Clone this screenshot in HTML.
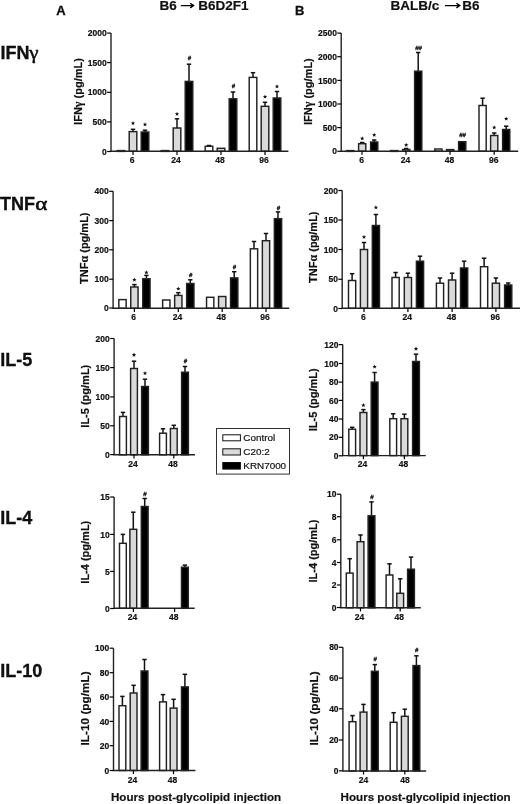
<!DOCTYPE html>
<html><head><meta charset="utf-8"><style>
html,body{margin:0;padding:0;background:#fff;}
body{width:520px;height:804px;overflow:hidden;}
svg{display:block;will-change:transform;}
text{font-family:"Liberation Sans",sans-serif;fill:#111;stroke:#111;stroke-width:0.2;}
.ax{fill:none;stroke:#222;stroke-width:1.4;}
.tk{stroke:#000;stroke-width:1.2;}
.b{stroke:#222;stroke-width:1.45;}
.e{stroke:#111;stroke-width:1.5;}
.yl{font-size:8.5px;font-weight:bold;text-anchor:end;}
.xl{font-size:8.5px;font-weight:bold;text-anchor:middle;}
.yt{font-size:11px;font-weight:bold;text-anchor:middle;}
.st{font-size:8px;font-weight:bold;text-anchor:middle;}
.hs{font-size:6.2px;font-weight:bold;text-anchor:middle;stroke:#111;stroke-width:0.3;}
.rl{font-size:18px;font-weight:bold;stroke:#000;stroke-width:0.3;}
.gk{font-family:"Liberation Serif",serif;font-weight:normal;}
.gk2{font-family:"Liberation Serif",serif;font-weight:bold;font-size:12px;}
.hd{font-size:13px;font-weight:bold;stroke:#000;stroke-width:0.3;}
.tt{font-size:13.5px;font-weight:bold;}
.xt{font-size:11.6px;font-weight:bold;}
.lg{font-size:9.9px;}
.ar{fill:none;stroke:#000;stroke-width:1.35;}
</style></head><body>
<svg width="520" height="804" viewBox="0 0 520 804">
<text x="56.3" y="14.6" class="hd">A</text>
<text x="295.1" y="14.6" class="hd">B</text>
<text x="159.5" y="10" class="tt">B6</text><path d="M180.8 5.6H192.8M190.2 3.3L193.6 5.6L190.2 7.9" class="ar"/><text x="198.3" y="10" class="tt">B6D2F1</text>
<text x="390.5" y="10" class="tt">BALB/c</text><path d="M445 5.6H459M456.4 3.3L459.8 5.6L456.4 7.9" class="ar"/><text x="462.2" y="10" class="tt">B6</text>
<text x="0.5" y="58.9" class="rl">IFN</text><text transform="translate(29.3 58.9) scale(1.16 1)" class="rl gk" style="stroke-width:0.45">γ</text>
<text x="0" y="209.6" class="rl">TNF</text><text transform="translate(35.2 209.6) scale(1.25 1)" class="rl gk" style="font-size:18.5px;stroke-width:0.5">α</text>
<text x="0.3" y="366.1" class="rl">IL-5</text>
<text x="0.3" y="523.6" class="rl">IL-4</text>
<text x="0.3" y="677.3" class="rl">IL-10</text>
<rect x="117.2" y="150.6" width="7.6" height="0.8" fill="#fff" class="b"/>
<line x1="133" y1="131.6" x2="133" y2="129.3" class="e"/>
<line x1="130.8" y1="129.3" x2="135.2" y2="129.3" class="e"/>
<rect x="129.2" y="131.6" width="7.6" height="19.7" fill="#dadada" class="b"/>
<polygon transform="translate(133 123.2)" points="0.00,-2.30 0.59,-0.81 2.19,-0.71 0.95,0.31 1.35,1.86 0.00,1.00 -1.35,1.86 -0.95,0.31 -2.19,-0.71 -0.59,-0.81" fill="#111"/>
<line x1="145" y1="132" x2="145" y2="130.2" class="e"/>
<line x1="142.8" y1="130.2" x2="147.2" y2="130.2" class="e"/>
<rect x="141.2" y="132" width="7.6" height="19.3" fill="#000" class="b"/>
<polygon transform="translate(145 124.5)" points="0.00,-2.30 0.59,-0.81 2.19,-0.71 0.95,0.31 1.35,1.86 0.00,1.00 -1.35,1.86 -0.95,0.31 -2.19,-0.71 -0.59,-0.81" fill="#111"/>
<rect x="161.2" y="150.6" width="7.6" height="0.8" fill="#fff" class="b"/>
<line x1="177" y1="128" x2="177" y2="118.8" class="e"/>
<line x1="174.8" y1="118.8" x2="179.2" y2="118.8" class="e"/>
<rect x="173.2" y="128" width="7.6" height="23.3" fill="#dadada" class="b"/>
<polygon transform="translate(177 114)" points="0.00,-2.30 0.59,-0.81 2.19,-0.71 0.95,0.31 1.35,1.86 0.00,1.00 -1.35,1.86 -0.95,0.31 -2.19,-0.71 -0.59,-0.81" fill="#111"/>
<line x1="189" y1="81.4" x2="189" y2="64.2" class="e"/>
<line x1="186.8" y1="64.2" x2="191.2" y2="64.2" class="e"/>
<rect x="185.2" y="81.4" width="7.6" height="69.9" fill="#000" class="b"/>
<text x="189.4" y="59.5" class="hs">#</text>
<line x1="209" y1="146.3" x2="209" y2="145.5" class="e"/>
<line x1="206.8" y1="145.5" x2="211.2" y2="145.5" class="e"/>
<rect x="205.2" y="146.3" width="7.6" height="5" fill="#fff" class="b"/>
<rect x="217.2" y="148.3" width="7.6" height="3" fill="#dadada" class="b"/>
<line x1="233" y1="98.8" x2="233" y2="92" class="e"/>
<line x1="230.8" y1="92" x2="235.2" y2="92" class="e"/>
<rect x="229.2" y="98.8" width="7.6" height="52.5" fill="#000" class="b"/>
<text x="233.4" y="88.3" class="hs">#</text>
<line x1="253" y1="77.4" x2="253" y2="72.7" class="e"/>
<line x1="250.8" y1="72.7" x2="255.2" y2="72.7" class="e"/>
<rect x="249.2" y="77.4" width="7.6" height="73.9" fill="#fff" class="b"/>
<line x1="265" y1="106.3" x2="265" y2="102.3" class="e"/>
<line x1="262.8" y1="102.3" x2="267.2" y2="102.3" class="e"/>
<rect x="261.2" y="106.3" width="7.6" height="45" fill="#dadada" class="b"/>
<polygon transform="translate(265 96.7)" points="0.00,-2.30 0.59,-0.81 2.19,-0.71 0.95,0.31 1.35,1.86 0.00,1.00 -1.35,1.86 -0.95,0.31 -2.19,-0.71 -0.59,-0.81" fill="#111"/>
<line x1="277" y1="98" x2="277" y2="91.5" class="e"/>
<line x1="274.8" y1="91.5" x2="279.2" y2="91.5" class="e"/>
<rect x="273.2" y="98" width="7.6" height="53.3" fill="#000" class="b"/>
<polygon transform="translate(277 86.5)" points="0.00,-2.30 0.59,-0.81 2.19,-0.71 0.95,0.31 1.35,1.86 0.00,1.00 -1.35,1.86 -0.95,0.31 -2.19,-0.71 -0.59,-0.81" fill="#111"/>
<path d="M111 33.1V151.3H288.4" class="ax"/>
<line x1="107.1" y1="151.5" x2="111" y2="151.5" class="tk"/>
<text x="106.7" y="154.6" class="yl">0</text>
<line x1="107.1" y1="121.9" x2="111" y2="121.9" class="tk"/>
<text x="106.7" y="125" class="yl">500</text>
<line x1="107.1" y1="92.3" x2="111" y2="92.3" class="tk"/>
<text x="106.7" y="95.4" class="yl">1000</text>
<line x1="107.1" y1="62.6" x2="111" y2="62.6" class="tk"/>
<text x="106.7" y="65.7" class="yl">1500</text>
<line x1="107.1" y1="33.1" x2="111" y2="33.1" class="tk"/>
<text x="106.7" y="36.2" class="yl">2000</text>
<line x1="133" y1="151.3" x2="133" y2="154.9" class="tk"/>
<text x="132.1" y="163.2" class="xl">6</text>
<line x1="177" y1="151.3" x2="177" y2="154.9" class="tk"/>
<text x="176.1" y="163.2" class="xl">24</text>
<line x1="221" y1="151.3" x2="221" y2="154.9" class="tk"/>
<text x="220.1" y="163.2" class="xl">48</text>
<line x1="265" y1="151.3" x2="265" y2="154.9" class="tk"/>
<text x="264.1" y="163.2" class="xl">96</text>
<text transform="translate(81.8 91.5) rotate(-90)" class="yt">IFN<tspan class="gk2">γ</tspan> (pg/mL)</text>
<rect x="118.85" y="299.6" width="7.3" height="8.7" fill="#fff" class="b"/>
<line x1="134.4" y1="287" x2="134.4" y2="284.6" class="e"/>
<line x1="132.2" y1="284.6" x2="136.6" y2="284.6" class="e"/>
<rect x="130.75" y="287" width="7.3" height="21.3" fill="#dadada" class="b"/>
<polygon transform="translate(134.4 279.8)" points="0.00,-2.30 0.59,-0.81 2.19,-0.71 0.95,0.31 1.35,1.86 0.00,1.00 -1.35,1.86 -0.95,0.31 -2.19,-0.71 -0.59,-0.81" fill="#111"/>
<line x1="146.4" y1="278.8" x2="146.4" y2="275.4" class="e"/>
<line x1="144.2" y1="275.4" x2="148.6" y2="275.4" class="e"/>
<rect x="142.75" y="278.8" width="7.3" height="29.5" fill="#000" class="b"/>
<polygon transform="translate(146.4 272.5)" points="0.00,-2.30 0.59,-0.81 2.19,-0.71 0.95,0.31 1.35,1.86 0.00,1.00 -1.35,1.86 -0.95,0.31 -2.19,-0.71 -0.59,-0.81" fill="#111"/>
<rect x="162.65" y="300" width="7.3" height="8.3" fill="#fff" class="b"/>
<line x1="178.3" y1="295.4" x2="178.3" y2="292.7" class="e"/>
<line x1="176.1" y1="292.7" x2="180.5" y2="292.7" class="e"/>
<rect x="174.65" y="295.4" width="7.3" height="12.9" fill="#dadada" class="b"/>
<polygon transform="translate(178.3 288.7)" points="0.00,-2.30 0.59,-0.81 2.19,-0.71 0.95,0.31 1.35,1.86 0.00,1.00 -1.35,1.86 -0.95,0.31 -2.19,-0.71 -0.59,-0.81" fill="#111"/>
<line x1="190.3" y1="283.5" x2="190.3" y2="279.8" class="e"/>
<line x1="188.1" y1="279.8" x2="192.5" y2="279.8" class="e"/>
<rect x="186.65" y="283.5" width="7.3" height="24.8" fill="#000" class="b"/>
<text x="190.7" y="277.2" class="hs">#</text>
<rect x="206.55" y="297.3" width="7.3" height="11" fill="#fff" class="b"/>
<rect x="218.55" y="296.5" width="7.3" height="11.8" fill="#dadada" class="b"/>
<line x1="234.2" y1="277.9" x2="234.2" y2="271.7" class="e"/>
<line x1="232" y1="271.7" x2="236.4" y2="271.7" class="e"/>
<rect x="230.55" y="277.9" width="7.3" height="30.4" fill="#000" class="b"/>
<text x="234.6" y="269.1" class="hs">#</text>
<line x1="254" y1="248.8" x2="254" y2="241.5" class="e"/>
<line x1="251.8" y1="241.5" x2="256.2" y2="241.5" class="e"/>
<rect x="250.35" y="248.8" width="7.3" height="59.5" fill="#fff" class="b"/>
<line x1="266" y1="240.7" x2="266" y2="233.5" class="e"/>
<line x1="263.8" y1="233.5" x2="268.2" y2="233.5" class="e"/>
<rect x="262.35" y="240.7" width="7.3" height="67.6" fill="#dadada" class="b"/>
<line x1="278" y1="218.7" x2="278" y2="211.9" class="e"/>
<line x1="275.8" y1="211.9" x2="280.2" y2="211.9" class="e"/>
<rect x="274.35" y="218.7" width="7.3" height="89.6" fill="#000" class="b"/>
<text x="278.4" y="209.5" class="hs">#</text>
<path d="M113.1 191.3V308.3H289.2" class="ax"/>
<line x1="109.2" y1="308" x2="113.1" y2="308" class="tk"/>
<text x="108.8" y="311.1" class="yl">0</text>
<line x1="109.2" y1="279.2" x2="113.1" y2="279.2" class="tk"/>
<text x="108.8" y="282.3" class="yl">100</text>
<line x1="109.2" y1="249.8" x2="113.1" y2="249.8" class="tk"/>
<text x="108.8" y="252.9" class="yl">200</text>
<line x1="109.2" y1="220.6" x2="113.1" y2="220.6" class="tk"/>
<text x="108.8" y="223.7" class="yl">300</text>
<line x1="109.2" y1="191.3" x2="113.1" y2="191.3" class="tk"/>
<text x="108.8" y="194.4" class="yl">400</text>
<line x1="134.4" y1="308.3" x2="134.4" y2="311.9" class="tk"/>
<text x="133.5" y="320.2" class="xl">6</text>
<line x1="178.3" y1="308.3" x2="178.3" y2="311.9" class="tk"/>
<text x="177.4" y="320.2" class="xl">24</text>
<line x1="222.2" y1="308.3" x2="222.2" y2="311.9" class="tk"/>
<text x="221.3" y="320.2" class="xl">48</text>
<line x1="266" y1="308.3" x2="266" y2="311.9" class="tk"/>
<text x="265.1" y="320.2" class="xl">96</text>
<text transform="translate(88.3 248.2) rotate(-90)" class="yt">TNF<tspan class="gk2">α</tspan> (pg/mL)</text>
<line x1="123" y1="416.5" x2="123" y2="412.4" class="e"/>
<line x1="120.8" y1="412.4" x2="125.2" y2="412.4" class="e"/>
<rect x="119.6" y="416.5" width="6.8" height="38.3" fill="#fff" class="b"/>
<line x1="134" y1="368.5" x2="134" y2="361.2" class="e"/>
<line x1="131.8" y1="361.2" x2="136.2" y2="361.2" class="e"/>
<rect x="130.6" y="368.5" width="6.8" height="86.3" fill="#dadada" class="b"/>
<polygon transform="translate(134 354.9)" points="0.00,-2.30 0.59,-0.81 2.19,-0.71 0.95,0.31 1.35,1.86 0.00,1.00 -1.35,1.86 -0.95,0.31 -2.19,-0.71 -0.59,-0.81" fill="#111"/>
<line x1="145" y1="386.5" x2="145" y2="379.2" class="e"/>
<line x1="142.8" y1="379.2" x2="147.2" y2="379.2" class="e"/>
<rect x="141.6" y="386.5" width="6.8" height="68.3" fill="#000" class="b"/>
<polygon transform="translate(145 373.2)" points="0.00,-2.30 0.59,-0.81 2.19,-0.71 0.95,0.31 1.35,1.86 0.00,1.00 -1.35,1.86 -0.95,0.31 -2.19,-0.71 -0.59,-0.81" fill="#111"/>
<line x1="163" y1="433.2" x2="163" y2="428.8" class="e"/>
<line x1="160.8" y1="428.8" x2="165.2" y2="428.8" class="e"/>
<rect x="159.6" y="433.2" width="6.8" height="21.6" fill="#fff" class="b"/>
<line x1="173.8" y1="428.5" x2="173.8" y2="425.3" class="e"/>
<line x1="171.6" y1="425.3" x2="176" y2="425.3" class="e"/>
<rect x="170.4" y="428.5" width="6.8" height="26.3" fill="#dadada" class="b"/>
<line x1="185" y1="372.2" x2="185" y2="366.5" class="e"/>
<line x1="182.8" y1="366.5" x2="187.2" y2="366.5" class="e"/>
<rect x="181.6" y="372.2" width="6.8" height="82.6" fill="#000" class="b"/>
<text x="185.4" y="362.5" class="hs">#</text>
<path d="M114.1 338.5V454.8H195" class="ax"/>
<line x1="110.2" y1="454.6" x2="114.1" y2="454.6" class="tk"/>
<text x="109.8" y="457.7" class="yl">0</text>
<line x1="110.2" y1="425.8" x2="114.1" y2="425.8" class="tk"/>
<text x="109.8" y="428.9" class="yl">50</text>
<line x1="110.2" y1="396.9" x2="114.1" y2="396.9" class="tk"/>
<text x="109.8" y="400" class="yl">100</text>
<line x1="110.2" y1="367.6" x2="114.1" y2="367.6" class="tk"/>
<text x="109.8" y="370.7" class="yl">150</text>
<line x1="110.2" y1="338.5" x2="114.1" y2="338.5" class="tk"/>
<text x="109.8" y="341.6" class="yl">200</text>
<line x1="134" y1="454.8" x2="134" y2="458.4" class="tk"/>
<text x="133.1" y="466.7" class="xl">24</text>
<line x1="173.8" y1="454.8" x2="173.8" y2="458.4" class="tk"/>
<text x="172.9" y="466.7" class="xl">48</text>
<text transform="translate(89.3 396.2) rotate(-90)" class="yt">IL-5 (pg/mL)</text>
<line x1="122.9" y1="543.3" x2="122.9" y2="534.4" class="e"/>
<line x1="120.7" y1="534.4" x2="125.1" y2="534.4" class="e"/>
<rect x="119.5" y="543.3" width="6.8" height="65" fill="#fff" class="b"/>
<line x1="133.3" y1="529.3" x2="133.3" y2="512.2" class="e"/>
<line x1="131.1" y1="512.2" x2="135.5" y2="512.2" class="e"/>
<rect x="129.9" y="529.3" width="6.8" height="79" fill="#dadada" class="b"/>
<line x1="144.7" y1="506.5" x2="144.7" y2="498.5" class="e"/>
<line x1="142.5" y1="498.5" x2="146.9" y2="498.5" class="e"/>
<rect x="141.3" y="506.5" width="6.8" height="101.8" fill="#000" class="b"/>
<text x="145.1" y="495.7" class="hs">#</text>
<line x1="184.9" y1="567.2" x2="184.9" y2="565.1" class="e"/>
<line x1="182.7" y1="565.1" x2="187.1" y2="565.1" class="e"/>
<rect x="181.5" y="567.2" width="6.8" height="41.1" fill="#000" class="b"/>
<path d="M114.1 497V608.3H194.7" class="ax"/>
<line x1="110.2" y1="608.5" x2="114.1" y2="608.5" class="tk"/>
<text x="109.8" y="611.6" class="yl">0</text>
<line x1="110.2" y1="571.4" x2="114.1" y2="571.4" class="tk"/>
<text x="109.8" y="574.5" class="yl">5</text>
<line x1="110.2" y1="534.4" x2="114.1" y2="534.4" class="tk"/>
<text x="109.8" y="537.5" class="yl">10</text>
<line x1="110.2" y1="497" x2="114.1" y2="497" class="tk"/>
<text x="109.8" y="500.1" class="yl">15</text>
<line x1="133.4" y1="608.3" x2="133.4" y2="611.9" class="tk"/>
<text x="132.5" y="620.2" class="xl">24</text>
<line x1="174.6" y1="608.3" x2="174.6" y2="611.9" class="tk"/>
<text x="173.7" y="620.2" class="xl">48</text>
<text transform="translate(89.3 552.2) rotate(-90)" class="yt">IL-4 (pg/mL)</text>
<line x1="122.4" y1="705.7" x2="122.4" y2="696.4" class="e"/>
<line x1="120.2" y1="696.4" x2="124.6" y2="696.4" class="e"/>
<rect x="119" y="705.7" width="6.8" height="64.8" fill="#fff" class="b"/>
<line x1="133.6" y1="693" x2="133.6" y2="685.3" class="e"/>
<line x1="131.4" y1="685.3" x2="135.8" y2="685.3" class="e"/>
<rect x="130.2" y="693" width="6.8" height="77.5" fill="#dadada" class="b"/>
<line x1="144.5" y1="671" x2="144.5" y2="659.5" class="e"/>
<line x1="142.3" y1="659.5" x2="146.7" y2="659.5" class="e"/>
<rect x="141.1" y="671" width="6.8" height="99.5" fill="#000" class="b"/>
<line x1="163" y1="701.9" x2="163" y2="694.6" class="e"/>
<line x1="160.8" y1="694.6" x2="165.2" y2="694.6" class="e"/>
<rect x="159.6" y="701.9" width="6.8" height="68.6" fill="#fff" class="b"/>
<line x1="173.6" y1="708.1" x2="173.6" y2="699.3" class="e"/>
<line x1="171.4" y1="699.3" x2="175.8" y2="699.3" class="e"/>
<rect x="170.2" y="708.1" width="6.8" height="62.4" fill="#dadada" class="b"/>
<line x1="184.9" y1="686.9" x2="184.9" y2="674.3" class="e"/>
<line x1="182.7" y1="674.3" x2="187.1" y2="674.3" class="e"/>
<rect x="181.5" y="686.9" width="6.8" height="83.6" fill="#000" class="b"/>
<path d="M113.5 648.2V770.5H195.4" class="ax"/>
<line x1="109.6" y1="770.5" x2="113.5" y2="770.5" class="tk"/>
<text x="109.2" y="773.6" class="yl">0</text>
<line x1="109.6" y1="745.7" x2="113.5" y2="745.7" class="tk"/>
<text x="109.2" y="748.8" class="yl">20</text>
<line x1="109.6" y1="721.4" x2="113.5" y2="721.4" class="tk"/>
<text x="109.2" y="724.5" class="yl">40</text>
<line x1="109.6" y1="697" x2="113.5" y2="697" class="tk"/>
<text x="109.2" y="700.1" class="yl">60</text>
<line x1="109.6" y1="672.7" x2="113.5" y2="672.7" class="tk"/>
<text x="109.2" y="675.8" class="yl">80</text>
<line x1="109.6" y1="648.2" x2="113.5" y2="648.2" class="tk"/>
<text x="109.2" y="651.3" class="yl">100</text>
<line x1="133.4" y1="770.5" x2="133.4" y2="774.1" class="tk"/>
<text x="132.5" y="783" class="xl">24</text>
<line x1="173.5" y1="770.5" x2="173.5" y2="774.1" class="tk"/>
<text x="172.6" y="783" class="xl">48</text>
<text transform="translate(89.4 708.4) rotate(-90)" class="yt" style="font-size:11.8px">IL-10 (pg/mL)</text>
<rect x="346.6" y="150.6" width="7.2" height="0.8" fill="#fff" class="b"/>
<line x1="362.2" y1="143.7" x2="362.2" y2="142.5" class="e"/>
<line x1="360" y1="142.5" x2="364.4" y2="142.5" class="e"/>
<rect x="358.6" y="143.7" width="7.2" height="7.5" fill="#dadada" class="b"/>
<polygon transform="translate(362.2 138.5)" points="0.00,-2.30 0.59,-0.81 2.19,-0.71 0.95,0.31 1.35,1.86 0.00,1.00 -1.35,1.86 -0.95,0.31 -2.19,-0.71 -0.59,-0.81" fill="#111"/>
<line x1="374.2" y1="142" x2="374.2" y2="140" class="e"/>
<line x1="372" y1="140" x2="376.4" y2="140" class="e"/>
<rect x="370.6" y="142" width="7.2" height="9.2" fill="#000" class="b"/>
<polygon transform="translate(374.2 135)" points="0.00,-2.30 0.59,-0.81 2.19,-0.71 0.95,0.31 1.35,1.86 0.00,1.00 -1.35,1.86 -0.95,0.31 -2.19,-0.71 -0.59,-0.81" fill="#111"/>
<rect x="390.6" y="150.6" width="7.2" height="0.8" fill="#fff" class="b"/>
<line x1="406.2" y1="149.5" x2="406.2" y2="148.5" class="e"/>
<line x1="404" y1="148.5" x2="408.4" y2="148.5" class="e"/>
<rect x="402.6" y="149.5" width="7.2" height="1.7" fill="#dadada" class="b"/>
<polygon transform="translate(406.2 145)" points="0.00,-2.30 0.59,-0.81 2.19,-0.71 0.95,0.31 1.35,1.86 0.00,1.00 -1.35,1.86 -0.95,0.31 -2.19,-0.71 -0.59,-0.81" fill="#111"/>
<line x1="418.2" y1="71.2" x2="418.2" y2="52.5" class="e"/>
<line x1="416" y1="52.5" x2="420.4" y2="52.5" class="e"/>
<rect x="414.6" y="71.2" width="7.2" height="80" fill="#000" class="b"/>
<text x="418.6" y="49.5" class="hs">##</text>
<rect x="434.8" y="149" width="7.2" height="2.2" fill="#fff" class="b"/>
<rect x="446.6" y="149.6" width="7.2" height="1.6" fill="#dadada" class="b"/>
<rect x="458.6" y="141.7" width="7.2" height="9.5" fill="#000" class="b"/>
<text x="462.6" y="136.7" class="hs">##</text>
<line x1="482.6" y1="105.5" x2="482.6" y2="98.2" class="e"/>
<line x1="480.4" y1="98.2" x2="484.8" y2="98.2" class="e"/>
<rect x="479" y="105.5" width="7.2" height="45.7" fill="#fff" class="b"/>
<line x1="494.2" y1="135.5" x2="494.2" y2="133" class="e"/>
<line x1="492" y1="133" x2="496.4" y2="133" class="e"/>
<rect x="490.6" y="135.5" width="7.2" height="15.7" fill="#dadada" class="b"/>
<polygon transform="translate(494.2 127.5)" points="0.00,-2.30 0.59,-0.81 2.19,-0.71 0.95,0.31 1.35,1.86 0.00,1.00 -1.35,1.86 -0.95,0.31 -2.19,-0.71 -0.59,-0.81" fill="#111"/>
<line x1="506.2" y1="129.5" x2="506.2" y2="126.2" class="e"/>
<line x1="504" y1="126.2" x2="508.4" y2="126.2" class="e"/>
<rect x="502.6" y="129.5" width="7.2" height="21.7" fill="#000" class="b"/>
<polygon transform="translate(506.2 118.7)" points="0.00,-2.30 0.59,-0.81 2.19,-0.71 0.95,0.31 1.35,1.86 0.00,1.00 -1.35,1.86 -0.95,0.31 -2.19,-0.71 -0.59,-0.81" fill="#111"/>
<path d="M341.2 33.1V151.2H518.2" class="ax"/>
<line x1="337.3" y1="151.25" x2="341.2" y2="151.25" class="tk"/>
<text x="336.9" y="154.35" class="yl">0</text>
<line x1="337.3" y1="127.6" x2="341.2" y2="127.6" class="tk"/>
<text x="336.9" y="130.7" class="yl">500</text>
<line x1="337.3" y1="104" x2="341.2" y2="104" class="tk"/>
<text x="336.9" y="107.1" class="yl">1000</text>
<line x1="337.3" y1="80.4" x2="341.2" y2="80.4" class="tk"/>
<text x="336.9" y="83.5" class="yl">1500</text>
<line x1="337.3" y1="56.7" x2="341.2" y2="56.7" class="tk"/>
<text x="336.9" y="59.8" class="yl">2000</text>
<line x1="337.3" y1="33.1" x2="341.2" y2="33.1" class="tk"/>
<text x="336.9" y="36.2" class="yl">2500</text>
<line x1="362" y1="151.2" x2="362" y2="154.8" class="tk"/>
<text x="361.5" y="163.1" class="xl">6</text>
<line x1="406" y1="151.2" x2="406" y2="154.8" class="tk"/>
<text x="405.5" y="163.1" class="xl">24</text>
<line x1="450" y1="151.2" x2="450" y2="154.8" class="tk"/>
<text x="449.5" y="163.1" class="xl">48</text>
<line x1="494.2" y1="151.2" x2="494.2" y2="154.8" class="tk"/>
<text x="493.7" y="163.1" class="xl">96</text>
<text transform="translate(311.9 91.6) rotate(-90)" class="yt">IFN<tspan class="gk2">γ</tspan> (pg/mL)</text>
<line x1="352.1" y1="280.5" x2="352.1" y2="273.7" class="e"/>
<line x1="349.9" y1="273.7" x2="354.3" y2="273.7" class="e"/>
<rect x="348.5" y="280.5" width="7.2" height="27.8" fill="#fff" class="b"/>
<line x1="364" y1="249.5" x2="364" y2="242.5" class="e"/>
<line x1="361.8" y1="242.5" x2="366.2" y2="242.5" class="e"/>
<rect x="360.4" y="249.5" width="7.2" height="58.8" fill="#dadada" class="b"/>
<polygon transform="translate(364 237)" points="0.00,-2.30 0.59,-0.81 2.19,-0.71 0.95,0.31 1.35,1.86 0.00,1.00 -1.35,1.86 -0.95,0.31 -2.19,-0.71 -0.59,-0.81" fill="#111"/>
<line x1="375.9" y1="225.5" x2="375.9" y2="214.5" class="e"/>
<line x1="373.7" y1="214.5" x2="378.1" y2="214.5" class="e"/>
<rect x="372.3" y="225.5" width="7.2" height="82.8" fill="#000" class="b"/>
<polygon transform="translate(375.9 207.5)" points="0.00,-2.30 0.59,-0.81 2.19,-0.71 0.95,0.31 1.35,1.86 0.00,1.00 -1.35,1.86 -0.95,0.31 -2.19,-0.71 -0.59,-0.81" fill="#111"/>
<line x1="395.6" y1="277.5" x2="395.6" y2="272.5" class="e"/>
<line x1="393.4" y1="272.5" x2="397.8" y2="272.5" class="e"/>
<rect x="392" y="277.5" width="7.2" height="30.8" fill="#fff" class="b"/>
<line x1="407.9" y1="277.5" x2="407.9" y2="273.2" class="e"/>
<line x1="405.7" y1="273.2" x2="410.1" y2="273.2" class="e"/>
<rect x="404.3" y="277.5" width="7.2" height="30.8" fill="#dadada" class="b"/>
<line x1="420" y1="261.2" x2="420" y2="256.2" class="e"/>
<line x1="417.8" y1="256.2" x2="422.2" y2="256.2" class="e"/>
<rect x="416.4" y="261.2" width="7.2" height="47.1" fill="#000" class="b"/>
<line x1="440" y1="283.2" x2="440" y2="278" class="e"/>
<line x1="437.8" y1="278" x2="442.2" y2="278" class="e"/>
<rect x="436.4" y="283.2" width="7.2" height="25.1" fill="#fff" class="b"/>
<line x1="452.1" y1="280" x2="452.1" y2="273.2" class="e"/>
<line x1="449.9" y1="273.2" x2="454.3" y2="273.2" class="e"/>
<rect x="448.5" y="280" width="7.2" height="28.3" fill="#dadada" class="b"/>
<line x1="464.1" y1="268" x2="464.1" y2="261.2" class="e"/>
<line x1="461.9" y1="261.2" x2="466.3" y2="261.2" class="e"/>
<rect x="460.5" y="268" width="7.2" height="40.3" fill="#000" class="b"/>
<line x1="484.1" y1="266.7" x2="484.1" y2="258.2" class="e"/>
<line x1="481.9" y1="258.2" x2="486.3" y2="258.2" class="e"/>
<rect x="480.5" y="266.7" width="7.2" height="41.6" fill="#fff" class="b"/>
<line x1="495.9" y1="283.2" x2="495.9" y2="278" class="e"/>
<line x1="493.7" y1="278" x2="498.1" y2="278" class="e"/>
<rect x="492.3" y="283.2" width="7.2" height="25.1" fill="#dadada" class="b"/>
<line x1="508.2" y1="285" x2="508.2" y2="283" class="e"/>
<line x1="506" y1="283" x2="510.4" y2="283" class="e"/>
<rect x="504.6" y="285" width="7.2" height="23.3" fill="#000" class="b"/>
<path d="M342.2 190.5V308.3H520.5" class="ax"/>
<line x1="338.3" y1="308.5" x2="342.2" y2="308.5" class="tk"/>
<text x="337.9" y="311.6" class="yl">0</text>
<line x1="338.3" y1="279.25" x2="342.2" y2="279.25" class="tk"/>
<text x="337.9" y="282.35" class="yl">50</text>
<line x1="338.3" y1="249.5" x2="342.2" y2="249.5" class="tk"/>
<text x="337.9" y="252.6" class="yl">100</text>
<line x1="338.3" y1="220" x2="342.2" y2="220" class="tk"/>
<text x="337.9" y="223.1" class="yl">150</text>
<line x1="338.3" y1="190.5" x2="342.2" y2="190.5" class="tk"/>
<text x="337.9" y="193.6" class="yl">200</text>
<line x1="364" y1="308.3" x2="364" y2="311.9" class="tk"/>
<text x="363.3" y="320.2" class="xl">6</text>
<line x1="407.9" y1="308.3" x2="407.9" y2="311.9" class="tk"/>
<text x="407.2" y="320.2" class="xl">24</text>
<line x1="452.1" y1="308.3" x2="452.1" y2="311.9" class="tk"/>
<text x="451.4" y="320.2" class="xl">48</text>
<line x1="495.9" y1="308.3" x2="495.9" y2="311.9" class="tk"/>
<text x="495.2" y="320.2" class="xl">96</text>
<text transform="translate(316.7 247.2) rotate(-90)" class="yt">TNF<tspan class="gk2">α</tspan> (pg/mL)</text>
<line x1="352.2" y1="429.2" x2="352.2" y2="427.3" class="e"/>
<line x1="350" y1="427.3" x2="354.4" y2="427.3" class="e"/>
<rect x="348.8" y="429.2" width="6.8" height="26.4" fill="#fff" class="b"/>
<line x1="363.4" y1="412.5" x2="363.4" y2="409.6" class="e"/>
<line x1="361.2" y1="409.6" x2="365.6" y2="409.6" class="e"/>
<rect x="360" y="412.5" width="6.8" height="43.1" fill="#dadada" class="b"/>
<polygon transform="translate(363.4 405.2)" points="0.00,-2.30 0.59,-0.81 2.19,-0.71 0.95,0.31 1.35,1.86 0.00,1.00 -1.35,1.86 -0.95,0.31 -2.19,-0.71 -0.59,-0.81" fill="#111"/>
<line x1="374.6" y1="382.1" x2="374.6" y2="372.5" class="e"/>
<line x1="372.4" y1="372.5" x2="376.8" y2="372.5" class="e"/>
<rect x="371.2" y="382.1" width="6.8" height="73.5" fill="#000" class="b"/>
<polygon transform="translate(374.6 366.7)" points="0.00,-2.30 0.59,-0.81 2.19,-0.71 0.95,0.31 1.35,1.86 0.00,1.00 -1.35,1.86 -0.95,0.31 -2.19,-0.71 -0.59,-0.81" fill="#111"/>
<line x1="393.2" y1="418.7" x2="393.2" y2="413.8" class="e"/>
<line x1="391" y1="413.8" x2="395.4" y2="413.8" class="e"/>
<rect x="389.8" y="418.7" width="6.8" height="36.9" fill="#fff" class="b"/>
<line x1="404.4" y1="418.7" x2="404.4" y2="414.2" class="e"/>
<line x1="402.2" y1="414.2" x2="406.6" y2="414.2" class="e"/>
<rect x="401" y="418.7" width="6.8" height="36.9" fill="#dadada" class="b"/>
<line x1="416" y1="361.5" x2="416" y2="354.2" class="e"/>
<line x1="413.8" y1="354.2" x2="418.2" y2="354.2" class="e"/>
<rect x="412.6" y="361.5" width="6.8" height="94.1" fill="#000" class="b"/>
<polygon transform="translate(416 348.8)" points="0.00,-2.30 0.59,-0.81 2.19,-0.71 0.95,0.31 1.35,1.86 0.00,1.00 -1.35,1.86 -0.95,0.31 -2.19,-0.71 -0.59,-0.81" fill="#111"/>
<path d="M342.7 344.6V455.6H425.8" class="ax"/>
<line x1="338.8" y1="455.8" x2="342.7" y2="455.8" class="tk"/>
<text x="338.4" y="458.9" class="yl">0</text>
<line x1="338.8" y1="437.3" x2="342.7" y2="437.3" class="tk"/>
<text x="338.4" y="440.4" class="yl">20</text>
<line x1="338.8" y1="419" x2="342.7" y2="419" class="tk"/>
<text x="338.4" y="422.1" class="yl">40</text>
<line x1="338.8" y1="400.4" x2="342.7" y2="400.4" class="tk"/>
<text x="338.4" y="403.5" class="yl">60</text>
<line x1="338.8" y1="382.1" x2="342.7" y2="382.1" class="tk"/>
<text x="338.4" y="385.2" class="yl">80</text>
<line x1="338.8" y1="363.5" x2="342.7" y2="363.5" class="tk"/>
<text x="338.4" y="366.6" class="yl">100</text>
<line x1="338.8" y1="344.6" x2="342.7" y2="344.6" class="tk"/>
<text x="338.4" y="347.7" class="yl">120</text>
<line x1="363.4" y1="455.6" x2="363.4" y2="459.2" class="tk"/>
<text x="362.4" y="466.8" class="xl">24</text>
<line x1="404.4" y1="455.6" x2="404.4" y2="459.2" class="tk"/>
<text x="403.4" y="466.8" class="xl">48</text>
<text transform="translate(317.2 399.75) rotate(-90)" class="yt">IL-5 (pg/mL)</text>
<line x1="349.7" y1="573.1" x2="349.7" y2="558.7" class="e"/>
<line x1="347.5" y1="558.7" x2="351.9" y2="558.7" class="e"/>
<rect x="346.3" y="573.1" width="6.8" height="34.7" fill="#fff" class="b"/>
<line x1="360.5" y1="541.7" x2="360.5" y2="535" class="e"/>
<line x1="358.3" y1="535" x2="362.7" y2="535" class="e"/>
<rect x="357.1" y="541.7" width="6.8" height="66.1" fill="#dadada" class="b"/>
<line x1="371.5" y1="515.8" x2="371.5" y2="501.9" class="e"/>
<line x1="369.3" y1="501.9" x2="373.7" y2="501.9" class="e"/>
<rect x="368.1" y="515.8" width="6.8" height="92" fill="#000" class="b"/>
<text x="371.9" y="499" class="hs">#</text>
<line x1="389.5" y1="575" x2="389.5" y2="563.8" class="e"/>
<line x1="387.3" y1="563.8" x2="391.7" y2="563.8" class="e"/>
<rect x="386.1" y="575" width="6.8" height="32.8" fill="#fff" class="b"/>
<line x1="400.2" y1="593.3" x2="400.2" y2="578.8" class="e"/>
<line x1="398" y1="578.8" x2="402.4" y2="578.8" class="e"/>
<rect x="396.8" y="593.3" width="6.8" height="14.5" fill="#dadada" class="b"/>
<line x1="411" y1="569.2" x2="411" y2="557.1" class="e"/>
<line x1="408.8" y1="557.1" x2="413.2" y2="557.1" class="e"/>
<rect x="407.6" y="569.2" width="6.8" height="38.6" fill="#000" class="b"/>
<path d="M340.8 494.2V607.8H420.8" class="ax"/>
<line x1="336.9" y1="607.5" x2="340.8" y2="607.5" class="tk"/>
<text x="336.5" y="610.6" class="yl">0</text>
<line x1="336.9" y1="585" x2="340.8" y2="585" class="tk"/>
<text x="336.5" y="588.1" class="yl">2</text>
<line x1="336.9" y1="562.5" x2="340.8" y2="562.5" class="tk"/>
<text x="336.5" y="565.6" class="yl">4</text>
<line x1="336.9" y1="539.8" x2="340.8" y2="539.8" class="tk"/>
<text x="336.5" y="542.9" class="yl">6</text>
<line x1="336.9" y1="516.7" x2="340.8" y2="516.7" class="tk"/>
<text x="336.5" y="519.8" class="yl">8</text>
<line x1="336.9" y1="494.2" x2="340.8" y2="494.2" class="tk"/>
<text x="336.5" y="497.3" class="yl">10</text>
<line x1="360.5" y1="607.8" x2="360.5" y2="611.4" class="tk"/>
<text x="359.5" y="619.7" class="xl">24</text>
<line x1="400.2" y1="607.8" x2="400.2" y2="611.4" class="tk"/>
<text x="399.2" y="619.7" class="xl">48</text>
<text transform="translate(317.2 551) rotate(-90)" class="yt">IL-4 (pg/mL)</text>
<line x1="352.5" y1="721.7" x2="352.5" y2="715.6" class="e"/>
<line x1="350.3" y1="715.6" x2="354.7" y2="715.6" class="e"/>
<rect x="349.1" y="721.7" width="6.8" height="49.3" fill="#fff" class="b"/>
<line x1="363.5" y1="712.1" x2="363.5" y2="704.4" class="e"/>
<line x1="361.3" y1="704.4" x2="365.7" y2="704.4" class="e"/>
<rect x="360.1" y="712.1" width="6.8" height="58.9" fill="#dadada" class="b"/>
<line x1="374.8" y1="671.3" x2="374.8" y2="664.6" class="e"/>
<line x1="372.6" y1="664.6" x2="377" y2="664.6" class="e"/>
<rect x="371.4" y="671.3" width="6.8" height="99.7" fill="#000" class="b"/>
<text x="375.2" y="661.3" class="hs">#</text>
<line x1="393.6" y1="722.3" x2="393.6" y2="712.7" class="e"/>
<line x1="391.4" y1="712.7" x2="395.8" y2="712.7" class="e"/>
<rect x="390.2" y="722.3" width="6.8" height="48.7" fill="#fff" class="b"/>
<line x1="404.8" y1="716.3" x2="404.8" y2="709.2" class="e"/>
<line x1="402.6" y1="709.2" x2="407" y2="709.2" class="e"/>
<rect x="401.4" y="716.3" width="6.8" height="54.7" fill="#dadada" class="b"/>
<line x1="416.4" y1="665.6" x2="416.4" y2="655.8" class="e"/>
<line x1="414.2" y1="655.8" x2="418.6" y2="655.8" class="e"/>
<rect x="413" y="665.6" width="6.8" height="105.4" fill="#000" class="b"/>
<text x="416.8" y="652.1" class="hs">#</text>
<path d="M342.9 647.3V771H426.2" class="ax"/>
<line x1="339" y1="770.8" x2="342.9" y2="770.8" class="tk"/>
<text x="338.6" y="773.9" class="yl">0</text>
<line x1="339" y1="740" x2="342.9" y2="740" class="tk"/>
<text x="338.6" y="743.1" class="yl">20</text>
<line x1="339" y1="708.8" x2="342.9" y2="708.8" class="tk"/>
<text x="338.6" y="711.9" class="yl">40</text>
<line x1="339" y1="678.1" x2="342.9" y2="678.1" class="tk"/>
<text x="338.6" y="681.2" class="yl">60</text>
<line x1="339" y1="647.3" x2="342.9" y2="647.3" class="tk"/>
<text x="338.6" y="650.4" class="yl">80</text>
<line x1="363.5" y1="771" x2="363.5" y2="774.6" class="tk"/>
<text x="363.6" y="783.2" class="xl">24</text>
<line x1="404.8" y1="771" x2="404.8" y2="774.6" class="tk"/>
<text x="404.9" y="783.2" class="xl">48</text>
<text transform="translate(317.9 708.4) rotate(-90)" class="yt" style="font-size:11.8px">IL-10 (pg/mL)</text>
<rect x="216.5" y="428.5" width="73" height="45.6" fill="#fff" stroke="#333" stroke-width="1"/>
<rect x="222.8" y="434.8" width="17.6" height="6" fill="#fff" stroke="#111" stroke-width="1"/>
<rect x="222.8" y="448.8" width="17.6" height="6.2" fill="#dadada" stroke="#111" stroke-width="1"/>
<rect x="222.8" y="462.5" width="17.6" height="6.6" fill="#000" stroke="#111" stroke-width="1"/>
<text x="243.3" y="441" class="lg">Control</text>
<text x="243.3" y="455" class="lg">C20:2</text>
<text x="243.3" y="469.2" class="lg">KRN7000</text>
<text x="111" y="800.8" class="xt">Hours post-glycolipid injection</text>
<text x="340.6" y="800.8" class="xt">Hours post-glycolipid injection</text>
</svg>
</body></html>
